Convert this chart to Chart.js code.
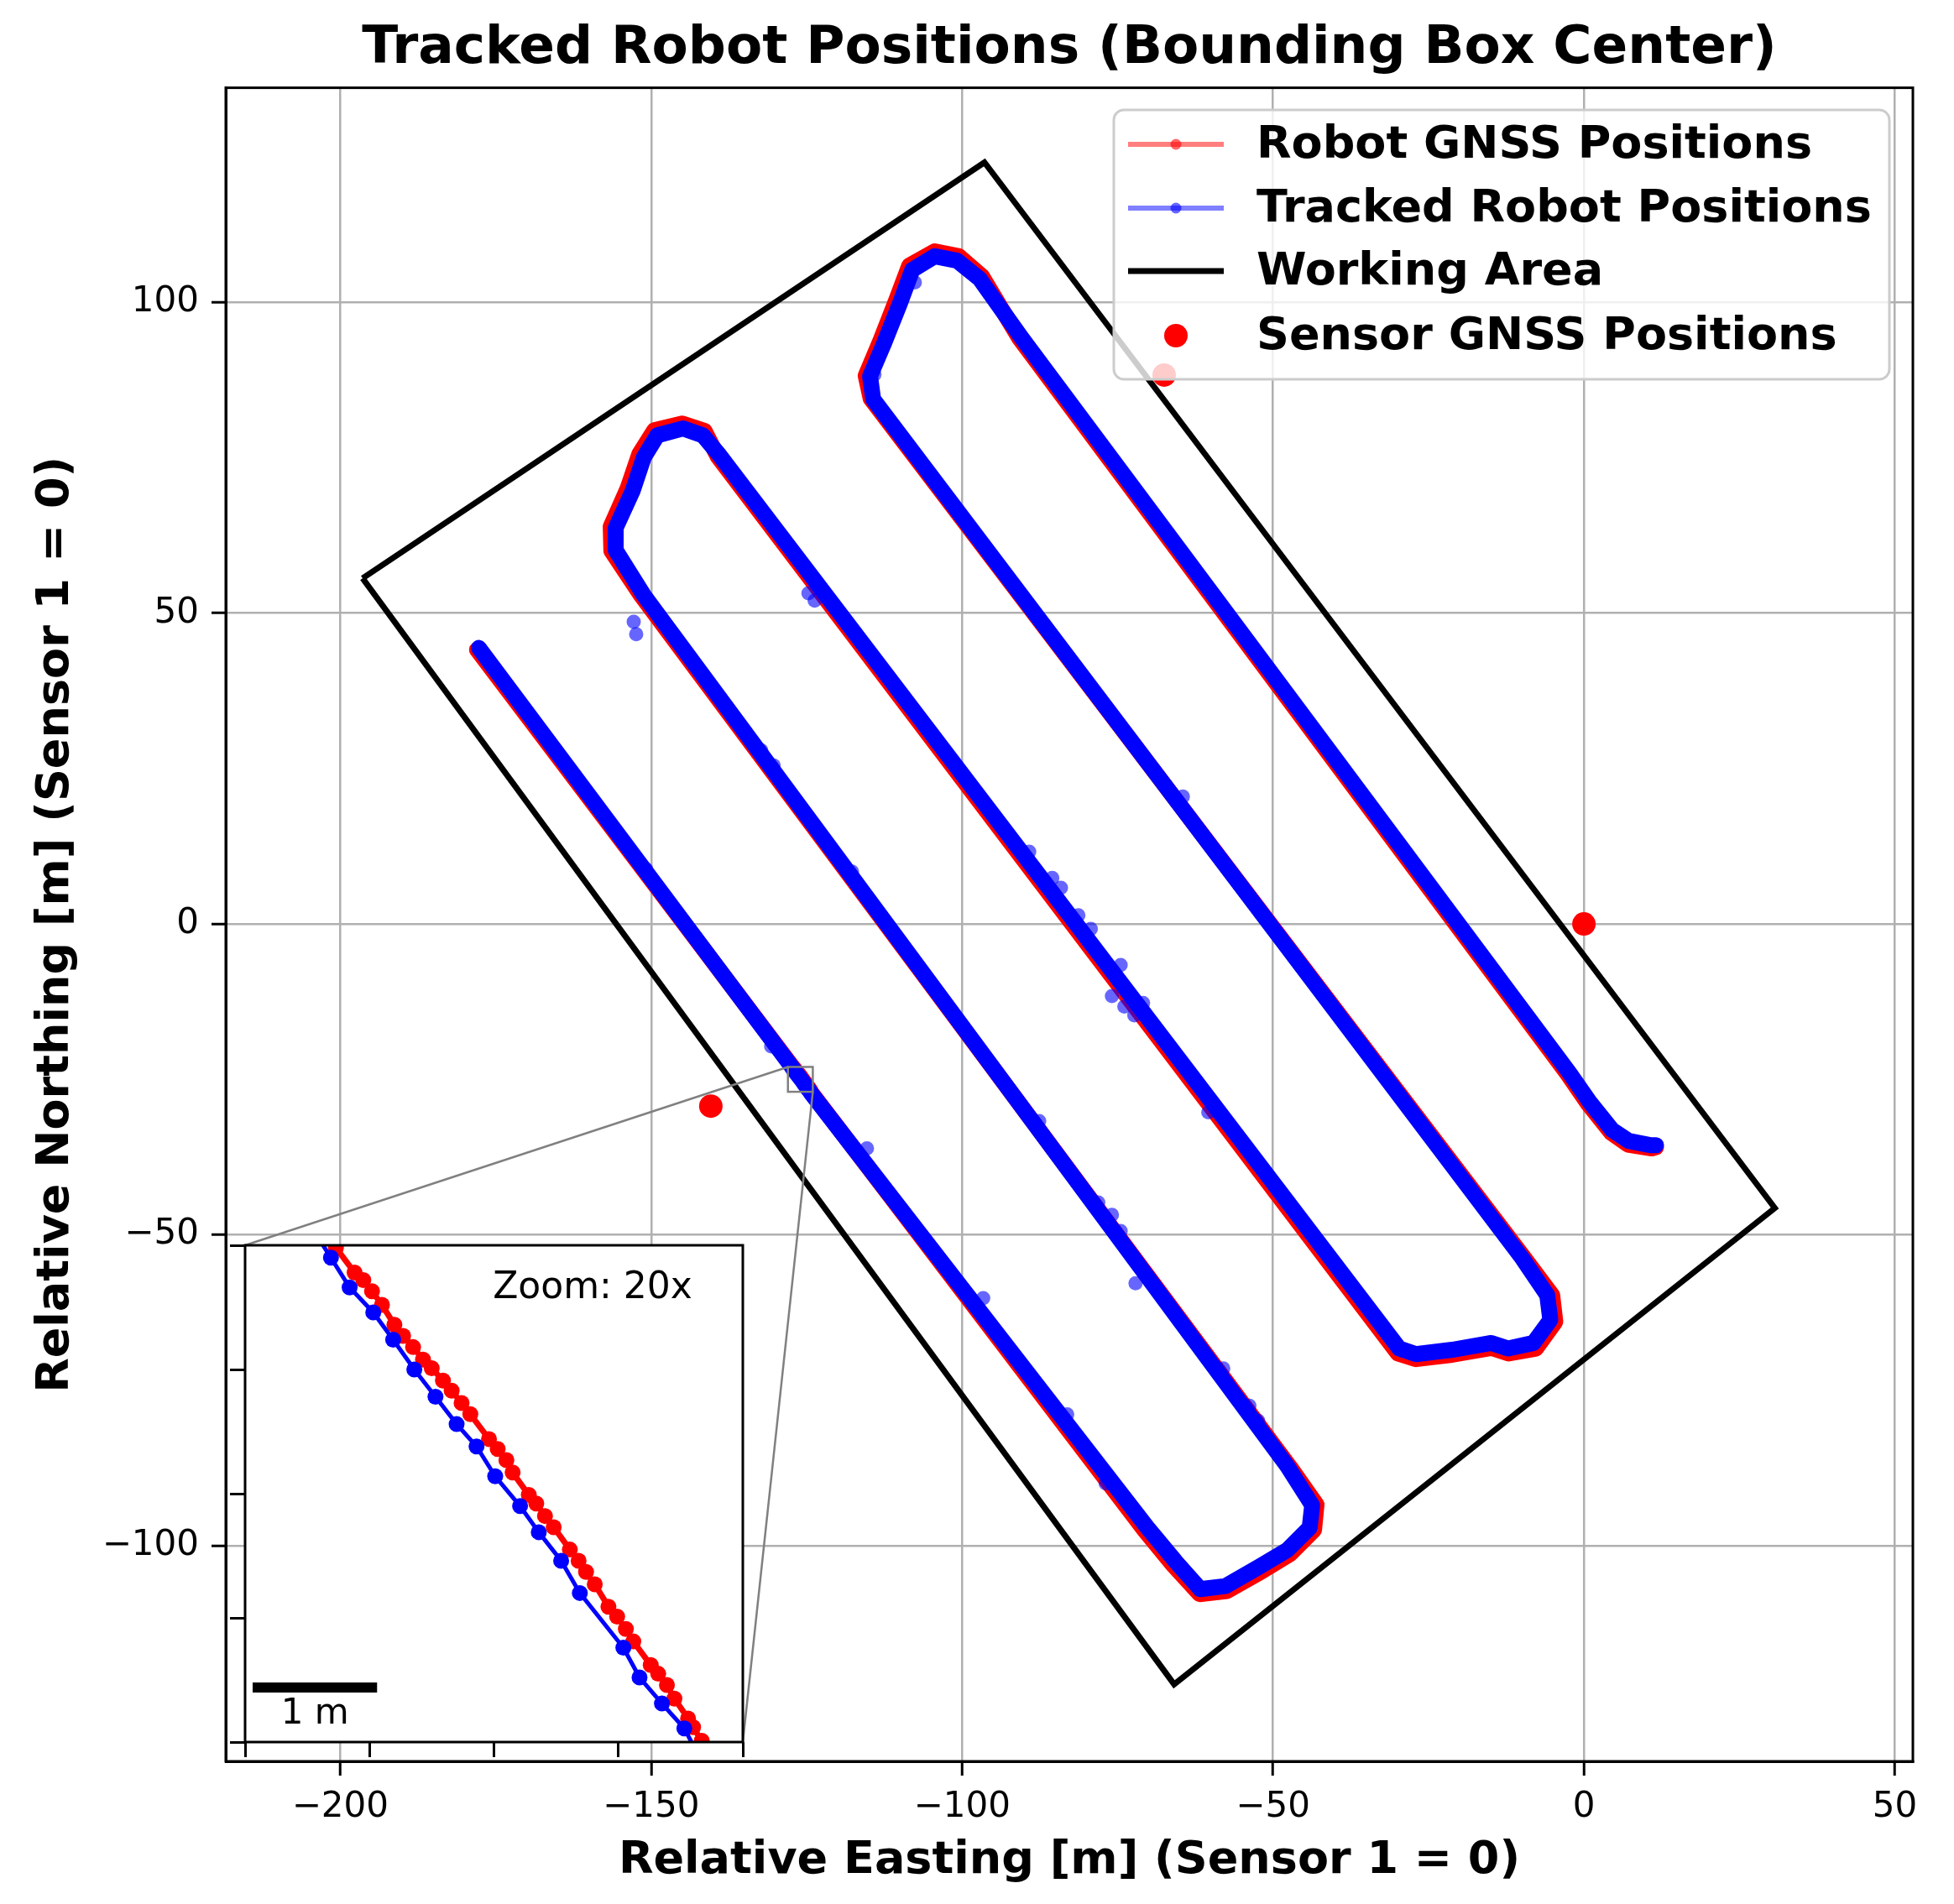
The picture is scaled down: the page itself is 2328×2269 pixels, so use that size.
<!DOCTYPE html>
<html>
<head>
<meta charset="utf-8">
<script src="https://cdn.jsdelivr.net/npm/chart.js@4.4.0/dist/chart.umd.min.js"></script>
<style>
  html, body { margin: 0; padding: 0; background: #fff; }
  #wrap { position: relative; width: 2328px; height: 2269px; }
  #mainChart { position: absolute; left: 0; top: 0; }
  #insetChart { position: absolute; left: 262px; top: 1474px; }
</style>
</head>
<body>
<div id="wrap">
  <canvas id="mainChart" width="2328" height="2269"></canvas>
  <canvas id="insetChart" width="633" height="632"></canvas>
</div>
<script>
// tick values
const xTicks = [-200, -150, -100, -50, 0, 50];
const yTicks = [-100, -50, 0, 50, 100];
const insetXLim = [-128, -124];
const insetYLim = [-27, -23];
const insetXTicks = [-128, -127, -126, -125, -124];
const insetYTicks = [-27, -26, -25, -24, -23];
const scaleBarMeters = 1;

// [easting, northing] in m
const workingArea = [[-196.4, 55.6], [-96.4, 122.5], [30.7, -45.7], [-65.9, -122.3], [-196.4, 55.6]];
const sensorGnss = [[0, 0], [-67.5, 88.3], [-140.4, -29.3]];

const trackedPath = [
  [-177.7, 44.4],
  [-127.45, -22.88], [-127.31, -23.10], [-127.16, -23.34], [-126.97, -23.54], [-126.81, -23.76],
  [-126.64, -24.00], [-126.47, -24.22], [-126.30, -24.44], [-126.14, -24.62], [-125.99, -24.86],
  [-125.79, -25.10], [-125.64, -25.31], [-125.46, -25.54], [-125.31, -25.80], [-124.96, -26.24],
  [-124.83, -26.48], [-124.65, -26.69], [-124.47, -26.89], [-124.34, -27.14],
  [-70.2, -97.1], [-65.7, -102.5], [-61.7, -107.0], [-57.6, -106.5], [-52.2, -103.4],
  [-47.7, -100.7], [-44.1, -97.1], [-43.7, -93.5], [-47.7, -87.2],
  [-151.2, 52.9], [-155.7, 60.1], [-155.7, 63.7], [-153.0, 69.6], [-151.2, 75.0],
  [-149.0, 78.6], [-144.9, 79.7], [-141.7, 78.6], [-139.0, 75.4],
  [-29.7, -68.3], [-27.0, -69.2], [-21.2, -68.5],
  [-14.9, -67.4], [-12.2, -68.3], [-8.1, -67.4], [-5.4, -63.7], [-5.9, -59.7], [-9.9, -53.8],
  [-114.3, 84.4], [-114.8, 88.1], [-112.5, 93.5], [-110.0, 99.8], [-108.0, 105.2],
  [-104.4, 107.4], [-100.8, 106.7], [-97.2, 103.8], [-90.5, 94.4],
  [-2.3, -24.0], [0.9, -28.6], [4.5, -33.1], [7.2, -34.9], [10.8, -35.6], [11.6, -35.6]
];

const robotGnssPath = [
  [-178.0, 44.1],
  [-127.32, -22.91], [-127.27, -23.02], [-127.12, -23.22], [-127.05, -23.28], [-126.98, -23.37],
  [-126.90, -23.48], [-126.80, -23.64], [-126.73, -23.73], [-126.65, -23.82], [-126.57, -23.92],
  [-126.50, -23.99], [-126.41, -24.09], [-126.34, -24.17], [-126.26, -24.27], [-126.19, -24.36],
  [-126.04, -24.56], [-125.97, -24.64], [-125.90, -24.73], [-125.85, -24.83], [-125.72, -25.01],
  [-125.66, -25.08], [-125.59, -25.18], [-125.52, -25.27], [-125.39, -25.45], [-125.32, -25.54],
  [-125.26, -25.63], [-125.19, -25.73], [-125.08, -25.91], [-125.01, -25.99], [-124.94, -26.09],
  [-124.88, -26.19], [-124.74, -26.38], [-124.68, -26.45], [-124.61, -26.54], [-124.55, -26.65],
  [-124.44, -26.81], [-124.40, -26.88], [-124.33, -26.99], [-124.25, -27.12],
  [-70.6, -97.6], [-66.0, -103.2], [-61.8, -107.8], [-57.4, -107.3], [-51.9, -104.2],
  [-47.2, -101.3], [-43.4, -97.5], [-43.0, -93.4], [-47.3, -87.3],
  [-151.6, 52.8], [-156.4, 60.0], [-156.5, 63.9], [-153.8, 70.0], [-151.9, 75.6],
  [-149.5, 79.4], [-145.0, 80.5], [-141.4, 79.3], [-139.3, 75.2],
  [-29.9, -69.1], [-27.0, -70.0], [-21.2, -69.3],
  [-14.9, -68.2], [-12.1, -69.1], [-7.7, -68.3], [-4.6, -64.0], [-5.1, -59.7], [-9.6, -53.7],
  [-114.7, 84.5], [-115.5, 88.2], [-113.1, 93.9], [-110.6, 100.3], [-108.5, 105.9],
  [-104.4, 108.2], [-100.5, 107.4], [-96.8, 104.2], [-90.8, 94.2],
  [-2.6, -24.2], [0.7, -29.0], [4.4, -33.6], [7.1, -35.5], [10.9, -36.1], [11.6, -35.9]
];

// stray tracker detections next to the track
const trackedOutliers = [
  [-124.7, 53.2], [-123.7, 52.0], [-134.7, 30.5], [-132.3, 27.9], [-130.3, 25.5], [-150.8, 8.8],
  [-117.7, 8.4], [-89.2, 11.6], [-85.5, 7.4], [-84.1, 5.8], [-81.3, 1.4], [-79.3, -0.8],
  [-75.9, -11.6], [-73.9, -13.3], [-72.3, -14.7], [-70.9, -12.7], [-74.5, -6.6], [-64.5, 20.5],
  [-60.4, -30.3], [-78.1, -44.8], [-75.9, -46.8], [-74.5, -49.4], [-72.1, -57.8], [-60.8, -69.5],
  [-58.0, -71.5], [-53.8, -77.5], [-52.4, -79.9], [-76.9, -90.0], [-83.1, -78.9], [-87.6, -31.7],
  [-96.6, -60.2], [-115.3, -36.1], [-130.7, -19.7], [-152.8, 48.6], [-152.4, 46.6],
  [-107.6, 103.2], [-114.1, 88.4], [-174.9, 40.6]
];

const FONT = "'DejaVu Sans', sans-serif";
const toPts = arr => arr.map(([x, y]) => ({ x, y }));
const fmt = v => (v < 0 ? '\u2212' + Math.abs(v) : String(v));

// inset axes box, page pixels
const insetBox = { left: 292, top: 1484, right: 885, bottom: 2076 };

const whiteBg = {
  id: 'whiteBg',
  beforeDraw(chart) {
    const { ctx, width, height } = chart;
    ctx.save();
    ctx.fillStyle = '#fff';
    ctx.fillRect(0, 0, width, height);
    ctx.restore();
  }
};

const mainFrame = {
  id: 'mainFrame',
  afterDatasetsDraw(chart) {
    const { ctx, chartArea: a, scales: { x, y } } = chart;
    ctx.save();
    // zoom marker and connectors
    const rx0 = x.getPixelForValue(insetXLim[0]), rx1 = x.getPixelForValue(insetXLim[1]);
    const ry0 = y.getPixelForValue(insetYLim[1]), ry1 = y.getPixelForValue(insetYLim[0]);
    ctx.strokeStyle = '#808080';
    ctx.lineWidth = 2.5;
    ctx.strokeRect(rx0, ry0, rx1 - rx0, ry1 - ry0);
    ctx.beginPath();
    ctx.moveTo(insetBox.left, insetBox.top); ctx.lineTo(rx0, ry0);
    ctx.moveTo(insetBox.right, insetBox.bottom); ctx.lineTo(rx1, ry1);
    ctx.stroke();
    // spines
    ctx.strokeStyle = '#000';
    ctx.lineWidth = 3;
    ctx.strokeRect(a.left, a.top, a.right - a.left, a.bottom - a.top);
    ctx.restore();
  }
};

const legendBox = {
  id: 'legendBox',
  afterDraw(chart) {
    const { ctx } = chart;
    const ds = chart.data.datasets;
    const byLabel = l => ds.find(d => d.label === l);
    const rows = [
      { d: byLabel('Robot GNSS Positions'), kind: 'line', color: 'rgba(255,0,0,0.5)', dot: 'rgba(255,0,0,0.6)' },
      { d: byLabel('Tracked Robot Positions'), kind: 'line', color: 'rgba(0,0,255,0.5)', dot: 'rgba(0,0,255,0.6)' },
      { d: byLabel('Working Area'), kind: 'line', color: '#000' },
      { d: byLabel('Sensor GNSS Positions'), kind: 'dot', dot: '#ff0000' }
    ];
    const bx = 1327, by = 131, bw = 924, bh = 321;
    ctx.save();
    ctx.beginPath();
    ctx.roundRect(bx, by, bw, bh, 12);
    ctx.fillStyle = 'rgba(255,255,255,0.8)';
    ctx.fill();
    ctx.strokeStyle = '#cccccc';
    ctx.lineWidth = 3;
    ctx.stroke();
    const rowY = [172, 248, 323, 400];
    ctx.font = 'bold 54px ' + FONT;
    ctx.textBaseline = 'middle';
    ctx.textAlign = 'left';
    rows.forEach((r, i) => {
      const cy = rowY[i];
      if (r.kind === 'line') {
        ctx.strokeStyle = r.color;
        ctx.lineWidth = r.dot ? 6 : 7;
        ctx.beginPath();
        ctx.moveTo(1344, cy); ctx.lineTo(1458, cy);
        ctx.stroke();
        if (r.dot) {
          ctx.fillStyle = r.dot;
          ctx.beginPath(); ctx.arc(1401, cy, 6.5, 0, Math.PI * 2); ctx.fill();
        }
      } else {
        ctx.fillStyle = r.dot;
        ctx.beginPath(); ctx.arc(1401, cy, 14, 0, Math.PI * 2); ctx.fill();
      }
      ctx.fillStyle = '#000';
      ctx.fillText(r.d.label, 1497, cy + 2);
    });
    ctx.restore();
  }
};

new Chart(document.getElementById('mainChart'), {
  type: 'scatter',
  data: {
    datasets: [
      { label: 'Sensor GNSS Positions', data: toPts(sensorGnss), pointRadius: 14, pointBackgroundColor: '#ff0000', pointBorderWidth: 0, order: 0, clip: 0 },
      { label: 'Tracked Robot Positions', data: toPts(trackedPath), showLine: true, borderColor: '#0000ff', borderWidth: 19,
        borderJoinStyle: 'round', borderCapStyle: 'round', pointRadius: 0, order: 1, clip: 0 },
      { label: 'Tracked outliers', data: toPts(trackedOutliers), pointRadius: 8.5, pointBackgroundColor: 'rgba(0,0,255,0.6)', pointBorderWidth: 0, order: 2, clip: 0 },
      { label: 'Robot GNSS Positions', data: toPts(robotGnssPath), showLine: true, borderColor: '#ff0000', borderWidth: 19,
        borderJoinStyle: 'round', borderCapStyle: 'round', pointRadius: 0, order: 3, clip: 0 },
      { label: 'Working Area', data: toPts(workingArea), showLine: true, borderColor: '#000', borderWidth: 7,
        borderJoinStyle: 'miter', pointRadius: 0, order: 4, clip: 0 }
    ]
  },
  options: {
    responsive: false,
    animation: false,
    devicePixelRatio: 1,
    events: [],
    layout: { padding: { right: 49 } },
    plugins: {
      legend: { display: false },
      tooltip: { enabled: false },
      title: {
        display: true, fullSize: false,
        text: 'Tracked Robot Positions (Bounding Box Center)',
        color: '#000', font: { family: FONT, size: 63, weight: 'bold' },
        padding: { top: 21, bottom: 8 }
      }
    },
    scales: {
      x: {
        type: 'linear', min: -218.4, max: 52.9,
        afterBuildTicks: s => { s.ticks = xTicks.map(v => ({ value: v })); },
        afterFit: s => { s.height = 170; },
        grid: { color: '#b0b0b0', lineWidth: 2.5, tickColor: '#000', tickWidth: 3, tickLength: 17 },
        border: { display: true, color: '#000', width: 3 },
        ticks: { color: '#000', font: { family: FONT, size: 42 }, padding: 13, maxRotation: 0, autoSkip: false, callback: v => fmt(v) },
        title: { display: true, text: 'Relative Easting [m] (Sensor 1 = 0)', color: '#000',
          font: { family: FONT, size: 54, weight: 'bold' }, padding: { top: 0, bottom: 19 } }
      },
      y: {
        type: 'linear', min: -134.7, max: 134.5,
        afterBuildTicks: s => { s.ticks = yTicks.map(v => ({ value: v })); },
        afterFit: s => { s.width = 269; },
        grid: { color: '#b0b0b0', lineWidth: 2.5, tickColor: '#000', tickWidth: 3, tickLength: 17 },
        border: { display: true, color: '#000', width: 3 },
        ticks: { color: '#000', font: { family: FONT, size: 42 }, padding: 15, autoSkip: false, callback: v => fmt(v) },
        title: { display: true, text: 'Relative Northing [m] (Sensor 1 = 0)', color: '#000',
          font: { family: FONT, size: 54, weight: 'bold' }, padding: { top: 35, bottom: 0 } }
      }
    }
  },
  plugins: [whiteBg, mainFrame, legendBox]
});

// zoomed inset
const insetDecor = {
  id: 'insetDecor',
  beforeDraw(chart) {
    const { ctx, chartArea: a } = chart;
    ctx.save();
    ctx.fillStyle = '#fff';
    ctx.fillRect(a.left, a.top, a.right - a.left, a.bottom - a.top);
    ctx.restore();
  },
  afterDraw(chart) {
    const { ctx, chartArea: a, scales: { x } } = chart;
    ctx.save();
    ctx.strokeStyle = '#000';
    ctx.lineWidth = 3;
    ctx.strokeRect(a.left, a.top, a.right - a.left, a.bottom - a.top);
    ctx.fillStyle = '#000';
    ctx.font = '44px ' + FONT;
    ctx.textAlign = 'center';
    ctx.textBaseline = 'middle';
    ctx.fillText('Zoom: 20x', 444, 62);
    // 1 m scale bar
    const len = x.getPixelForValue(insetXLim[0] + scaleBarMeters) - x.getPixelForValue(insetXLim[0]);
    const x0 = a.left + 9;
    ctx.fillRect(x0, 531, len, 12);
    ctx.font = '42px ' + FONT;
    ctx.fillText(scaleBarMeters + ' m', x0 + len / 2, 569);
    ctx.restore();
  }
};

new Chart(document.getElementById('insetChart'), {
  type: 'scatter',
  data: {
    datasets: [
      { label: 'Tracked Robot Positions', data: toPts(trackedPath), showLine: true, borderColor: '#0000ff', borderWidth: 5,
        pointRadius: 9.5, pointBackgroundColor: '#0000ff', pointBorderWidth: 0, order: 0, clip: 0 },
      { label: 'Robot GNSS Positions', data: toPts(robotGnssPath), showLine: true, borderColor: '#ff0000', borderWidth: 7,
        pointRadius: 9.5, pointBackgroundColor: '#ff0000', pointBorderWidth: 0, order: 1, clip: 0 }
    ]
  },
  options: {
    responsive: false,
    animation: false,
    devicePixelRatio: 1,
    events: [],
    layout: { padding: { top: 10, right: 10 } },
    plugins: { legend: { display: false }, tooltip: { enabled: false }, title: { display: false } },
    scales: {
      x: {
        type: 'linear', min: insetXLim[0], max: insetXLim[1],
        afterBuildTicks: s => { s.ticks = insetXTicks.map(v => ({ value: v })); },
        afterFit: s => { s.height = 30; },
        grid: { drawOnChartArea: false, tickColor: '#000', tickWidth: 3, tickLength: 18 },
        border: { display: false },
        ticks: { display: false }
      },
      y: {
        type: 'linear', min: insetYLim[0], max: insetYLim[1],
        afterBuildTicks: s => { s.ticks = insetYTicks.map(v => ({ value: v })); },
        afterFit: s => { s.width = 30; },
        grid: { drawOnChartArea: false, tickColor: '#000', tickWidth: 3, tickLength: 18 },
        border: { display: false },
        ticks: { display: false }
      }
    }
  },
  plugins: [insetDecor]
});
</script>
</body>
</html>
